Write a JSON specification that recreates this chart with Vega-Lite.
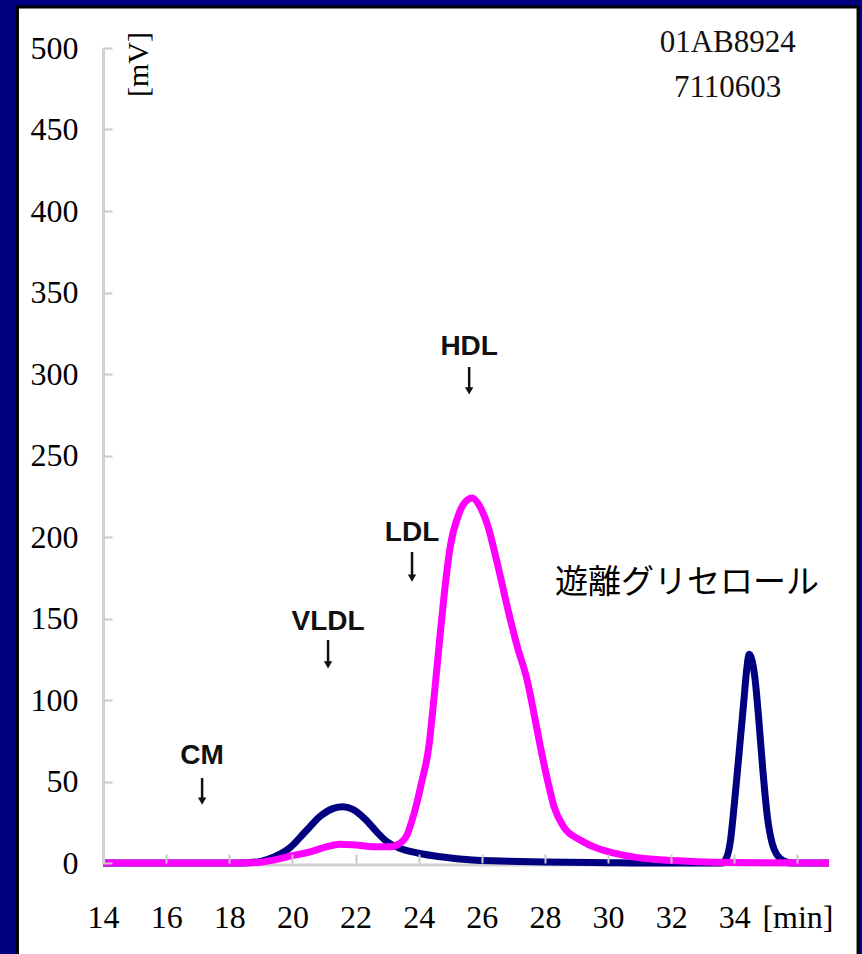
{
  "$schema": "https://vega.github.io/schema/vega-lite/v6.json",
  "width": 726,
  "height": 815,
  "autosize": {"type": "none"},
  "padding": {"left": 103, "top": 48, "right": 33, "bottom": 91},
  "background": "#000080",
  "config": {"view": {"stroke": null}},
  "datasets": {
    "frame": [{"x": 11.29, "x2": 37.92, "y": -70, "y2": 525.2}],
    "baseline": [{"x": 14, "x2": 37, "y": 0}],
    "curves": [
      {"s": "TG", "x": 14, "y": 0}, {"s": "TG", "x": 16, "y": 0}, {"s": "TG", "x": 18, "y": 0},
      {"s": "TG", "x": 18.6, "y": 0.2}, {"s": "TG", "x": 19.0, "y": 1}, {"s": "TG", "x": 19.4, "y": 3.5},
      {"s": "TG", "x": 19.9, "y": 9}, {"s": "TG", "x": 20.4, "y": 19}, {"s": "TG", "x": 20.9, "y": 29},
      {"s": "TG", "x": 21.3, "y": 33.5}, {"s": "TG", "x": 21.6, "y": 34.5}, {"s": "TG", "x": 21.9, "y": 33},
      {"s": "TG", "x": 22.3, "y": 27}, {"s": "TG", "x": 22.7, "y": 18.5}, {"s": "TG", "x": 23.0, "y": 13},
      {"s": "TG", "x": 23.4, "y": 9}, {"s": "TG", "x": 24.0, "y": 6}, {"s": "TG", "x": 24.7, "y": 3.8},
      {"s": "TG", "x": 25.7, "y": 1.8}, {"s": "TG", "x": 26.6, "y": 1.2}, {"s": "TG", "x": 28, "y": 0.6},
      {"s": "TG", "x": 30, "y": 0.2}, {"s": "TG", "x": 31, "y": 0}, {"s": "TG", "x": 33.6, "y": 0},
      {"s": "TG", "x": 33.75, "y": 3}, {"s": "TG", "x": 33.88, "y": 14}, {"s": "TG", "x": 34.0, "y": 36},
      {"s": "TG", "x": 34.15, "y": 67}, {"s": "TG", "x": 34.3, "y": 99}, {"s": "TG", "x": 34.4, "y": 120},
      {"s": "TG", "x": 34.47, "y": 128}, {"s": "TG", "x": 34.55, "y": 125}, {"s": "TG", "x": 34.65, "y": 114},
      {"s": "TG", "x": 34.78, "y": 87}, {"s": "TG", "x": 34.9, "y": 58}, {"s": "TG", "x": 35.05, "y": 28},
      {"s": "TG", "x": 35.2, "y": 12}, {"s": "TG", "x": 35.35, "y": 5}, {"s": "TG", "x": 35.55, "y": 1.5},
      {"s": "TG", "x": 35.8, "y": 0}, {"s": "TG", "x": 37, "y": 0},
      {"s": "TC", "x": 14, "y": 0}, {"s": "TC", "x": 18, "y": 0}, {"s": "TC", "x": 19.0, "y": 0.5},
      {"s": "TC", "x": 19.4, "y": 1.8}, {"s": "TC", "x": 20.0, "y": 4.5}, {"s": "TC", "x": 20.5, "y": 6.5},
      {"s": "TC", "x": 21.1, "y": 10}, {"s": "TC", "x": 21.5, "y": 11.5}, {"s": "TC", "x": 22.0, "y": 11},
      {"s": "TC", "x": 22.6, "y": 10}, {"s": "TC", "x": 23.1, "y": 10}, {"s": "TC", "x": 23.4, "y": 12},
      {"s": "TC", "x": 23.6, "y": 16}, {"s": "TC", "x": 23.85, "y": 30}, {"s": "TC", "x": 24.1, "y": 50},
      {"s": "TC", "x": 24.32, "y": 71}, {"s": "TC", "x": 24.48, "y": 100}, {"s": "TC", "x": 24.64, "y": 132},
      {"s": "TC", "x": 24.8, "y": 163}, {"s": "TC", "x": 25.0, "y": 194}, {"s": "TC", "x": 25.27, "y": 214},
      {"s": "TC", "x": 25.5, "y": 222}, {"s": "TC", "x": 25.7, "y": 224}, {"s": "TC", "x": 25.96, "y": 218},
      {"s": "TC", "x": 26.17, "y": 208}, {"s": "TC", "x": 26.49, "y": 184}, {"s": "TC", "x": 26.81, "y": 157},
      {"s": "TC", "x": 27.12, "y": 133}, {"s": "TC", "x": 27.44, "y": 112}, {"s": "TC", "x": 27.65, "y": 92},
      {"s": "TC", "x": 27.86, "y": 71}, {"s": "TC", "x": 28.08, "y": 51}, {"s": "TC", "x": 28.29, "y": 34.5},
      {"s": "TC", "x": 28.6, "y": 22}, {"s": "TC", "x": 29.13, "y": 14}, {"s": "TC", "x": 29.66, "y": 9},
      {"s": "TC", "x": 30.19, "y": 6}, {"s": "TC", "x": 30.93, "y": 3.3}, {"s": "TC", "x": 31.78, "y": 1.8},
      {"s": "TC", "x": 32.84, "y": 0.8}, {"s": "TC", "x": 34, "y": 0.3}, {"s": "TC", "x": 37, "y": 0}
    ],
    "fractions": [
      {"label": "HDL", "x": 25.6, "y": 316.6, "y2": 304.3, "tip": 289.6},
      {"label": "LDL", "x": 23.79, "y": 202.5, "y2": 190.8, "tip": 174.8},
      {"label": "VLDL", "x": 21.13, "y": 147.9, "y2": 136.8, "tip": 121.5},
      {"label": "CM", "x": 17.14, "y": 65.6, "y2": 52.1, "tip": 38.0}
    ],
    "ids": [
      {"label": "01AB8924", "x": 33.79, "y": 502.8},
      {"label": "7110603", "x": 33.79, "y": 475.5}
    ],
    "jp": [{"label": "遊離グリセロール", "x": 32.5, "y": 171.8}]
  },
  "encoding": {
    "x": {
      "field": "x", "type": "quantitative",
      "scale": {"domain": [14, 37], "nice": false, "zero": false},
      "axis": {
        "title": null, "grid": false, "domain": false, "zindex": 1,
        "values": [14, 16, 18, 20, 22, 24, 26, 28, 30, 32, 34, 36],
        "labelExpr": "datum.value == 36 ? '[min]' : datum.label",
        "tickSize": -9, "tickColor": "#c8c8c8", "tickWidth": 2,
        "labelFont": "Liberation Serif", "labelFontSize": 32, "labelColor": "#000000",
        "labelPadding": 48, "labelFlush": false, "labelOverlap": false, "labelBaseline": "top"
      }
    },
    "y": {
      "field": "y", "type": "quantitative",
      "scale": {"domain": [0, 500], "nice": false},
      "axis": {
        "title": "[mV]", "grid": false, "zindex": 1,
        "values": [0, 50, 100, 150, 200, 250, 300, 350, 400, 450, 500],
        "tickSize": -9, "tickColor": "#c8c8c8", "tickWidth": 2,
        "domainColor": "#cfcfcf", "domainWidth": 3,
        "labelFont": "Liberation Serif", "labelFontSize": 32, "labelColor": "#000000",
        "labelPadding": 34, "labelFlush": false, "labelOverlap": false,
        "titleFont": "Liberation Serif", "titleFontSize": 30, "titleFontWeight": "normal",
        "titleColor": "#000000", "titleAngle": 270, "titleAlign": "center", "titleBaseline": "middle",
        "titleX": 35, "titleY": 16
      }
    }
  },
  "layer": [
    {
      "data": {"name": "frame"},
      "mark": {"type": "rect", "fill": "#ffffff", "stroke": "#000000", "strokeWidth": 3, "clip": false},
      "encoding": {"x2": {"field": "x2"}, "y2": {"field": "y2"}}
    },
    {
      "data": {"name": "baseline"},
      "mark": {"type": "rule", "color": "#d0d0d0", "strokeWidth": 3, "yOffset": 2},
      "encoding": {"x2": {"field": "x2"}}
    },
    {
      "data": {"name": "curves"},
      "transform": [{"filter": "datum.s == 'TG'"}],
      "mark": {"type": "line", "color": "#000080", "strokeWidth": 7, "interpolate": "monotone"},
      "encoding": {}
    },
    {
      "data": {"name": "curves"},
      "transform": [{"filter": "datum.s == 'TC'"}],
      "mark": {"type": "line", "color": "#ff00ff", "strokeWidth": 7, "interpolate": "monotone"},
      "encoding": {}
    },
    {
      "data": {"name": "fractions"},
      "mark": {"type": "text", "font": "Liberation Sans", "fontSize": 28, "fontWeight": "bold", "color": "#111111", "align": "center", "baseline": "middle"},
      "encoding": {"text": {"field": "label"}}
    },
    {
      "data": {"name": "fractions"},
      "mark": {"type": "rule", "color": "#111111", "strokeWidth": 2.5},
      "encoding": {"y2": {"field": "tip"}, "y": {"field": "y2", "type": "quantitative"}}
    },
    {
      "data": {"name": "fractions"},
      "mark": {"type": "point", "shape": "triangle-down", "filled": true, "size": 70, "color": "#111111", "opacity": 1},
      "encoding": {"y": {"field": "tip", "type": "quantitative"}}
    },
    {
      "data": {"name": "ids"},
      "mark": {"type": "text", "font": "Liberation Serif", "fontSize": 31, "color": "#111111", "align": "center", "baseline": "middle"},
      "encoding": {"text": {"field": "label"}}
    },
    {
      "data": {"name": "jp"},
      "mark": {"type": "text", "font": "Noto Sans CJK JP", "fontSize": 33, "color": "#000000", "align": "center", "baseline": "middle"},
      "encoding": {"text": {"field": "label"}}
    }
  ]
}
